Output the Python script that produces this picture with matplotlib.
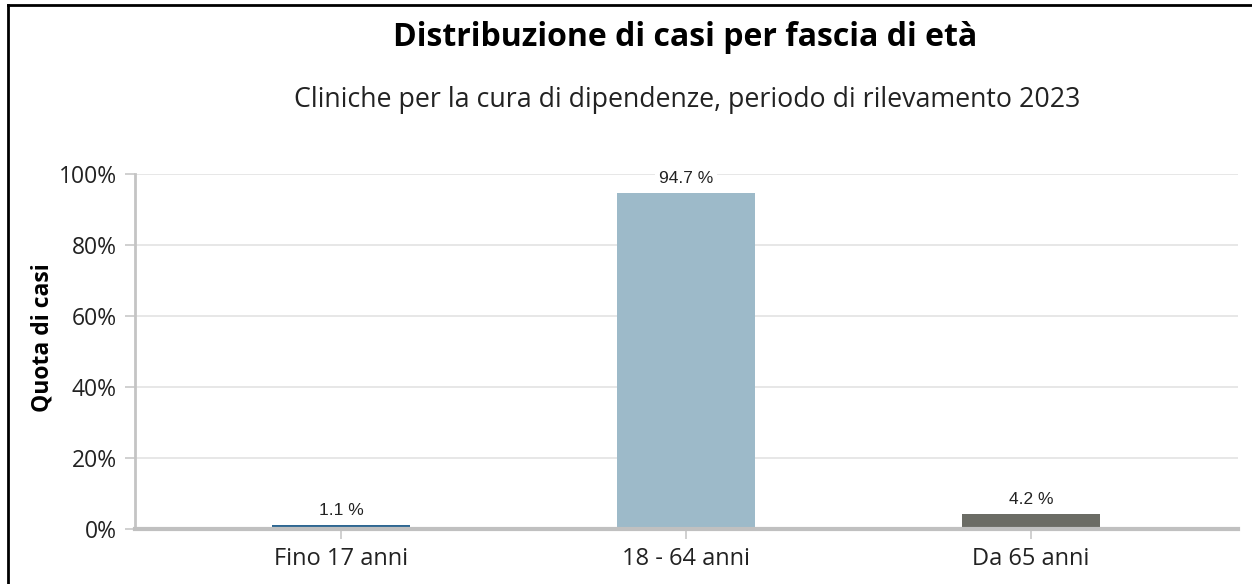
import matplotlib
matplotlib.use("Agg")
import matplotlib.pyplot as plt
from matplotlib.lines import Line2D

categories = ["Fino 17 anni", "18 - 64 anni", "Da 65 anni"]
values = [1.1, 94.7, 4.2]
value_labels = ["1.1 %", "94.7 %", "4.2 %"]
colors = ["#2e6792", "#9dbac9", "#6b6c65"]
yticks = [0, 20, 40, 60, 80, 100]
ytick_labels = ["0%", "20%", "40%", "60%", "80%", "100%"]

W, H = 1252, 584
fig = plt.figure(figsize=(W / 100, H / 100), dpi=100)
font = ["Open Sans", "DejaVu Sans"]

ax = fig.add_axes([135 / W, 1 - 529 / H, (1238 - 135) / W, (529 - 174) / H])
x = list(range(len(categories)))
ax.bar(x, values, width=0.4, color=colors, zorder=3)
ax.set_xlim(-0.597, 2.6)
ax.set_ylim(0, 100)

ax.set_yticks(yticks)
ax.set_yticklabels(ytick_labels, fontsize=16.5, color="#222222", family=font)
ax.set_xticks(x)
ax.set_xticklabels(categories, fontsize=17, color="#222222", family=font)
ax.yaxis.grid(True, color="#e3e3e3", linewidth=1.2, zorder=0)
ax.tick_params(axis="y", length=7, width=1.2, color="#c8c8c8", pad=6)
ax.tick_params(axis="x", length=7, width=1.2, color="#c8c8c8", pad=6)

for s in ["top", "right"]:
    ax.spines[s].set_visible(False)
ax.spines["left"].set_color("#c4c4c4")
ax.spines["left"].set_linewidth(2)
ax.spines["bottom"].set_color("#c0c0c0")
ax.spines["bottom"].set_linewidth(3)
ax.spines["bottom"].set_zorder(4)

ax.set_ylabel("Quota di casi", fontsize=16.5, fontweight="bold", family=font)
ax.yaxis.set_label_coords(-0.073, 0.54)

for xi, v, lab in zip(x, values, value_labels):
    ax.annotate(lab, (xi, v), xytext=(0, 5), textcoords="offset points",
                ha="center", va="bottom", fontsize=12.5, family="Liberation Sans",
                color="#222222", zorder=5,
                bbox=dict(boxstyle="square,pad=0.2", fc="white", ec="none"))

fig.text(685 / W, 1 - 38 / H, "Distribuzione di casi per fascia di età",
         ha="center", va="center", fontsize=23, fontweight="bold", family=font)
fig.text(687 / W, 1 - 100 / H, "Cliniche per la cura di dipendenze, periodo di rilevamento 2023",
         ha="center", va="center", fontsize=19.3, family=font, color="#222222")

fig.add_artist(Line2D([8 / W, 1], [1 - 5 / H, 1 - 5 / H], color="black", linewidth=2,
                      transform=fig.transFigure))
fig.add_artist(Line2D([8 / W, 8 / W], [0, 1 - 5 / H], color="black", linewidth=2,
                      transform=fig.transFigure))

fig.savefig("out.png", dpi=100)
